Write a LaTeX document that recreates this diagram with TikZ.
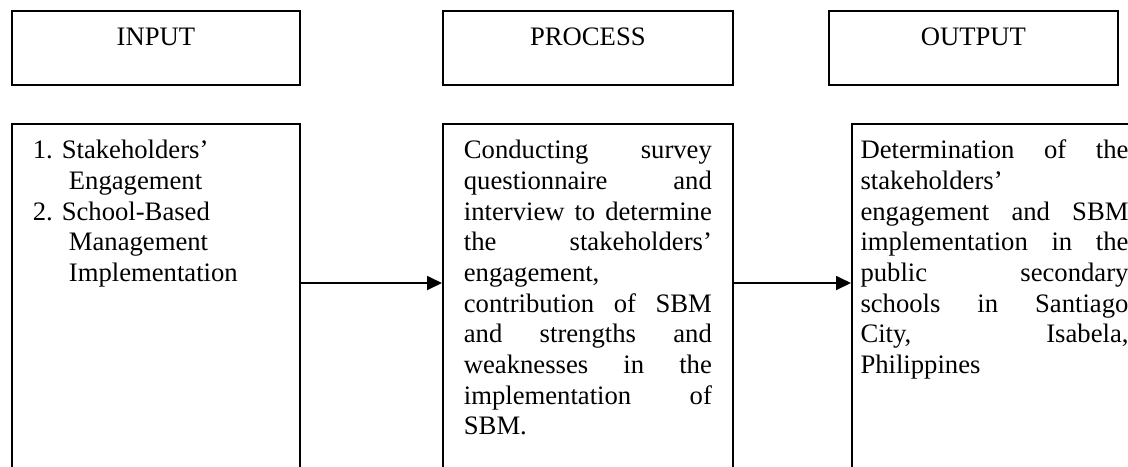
\documentclass[tikz,border=0pt]{standalone}
\usepackage{fontspec}
\setmainfont{Liberation Serif}
\usepackage{tikz}
\usetikzlibrary{arrows.meta,positioning,calc}
\tolerance=10000
\hbadness=10000

\begin{document}
\begin{tikzpicture}[x=0.45pt, y=-0.45pt,
  box/.style={rectangle, draw, line width=0.8pt, anchor=north west,
    inner ysep=0pt, text height=15.75pt},
  headbox/.style={box, inner xsep=0pt, minimum width=#1, text depth=17.55pt},
  bodybox/.style={box, inner xsep=9.45pt, text width=#1, align=justify,
    text depth=160pt},
  arrow/.style={-{Triangle[length=6.75pt,width=6.3pt]}, line width=0.8pt},
  every node/.style={font=\fontsize{12pt}{13.8pt}\selectfont}
]
  \useasboundingbox (0,0) rectangle (1128,466);
  \clip (0,0) rectangle (1128,466);

  % Headings (top row)
  \node[headbox=129.6pt] (inhead) at (11,10) {INPUT};
  \node[headbox=130.5pt] (prochead) at (442,10) {PROCESS};
  \node[headbox=130.05pt] (outhead) at (828,10) {OUTPUT};

  % Input column
  \node[bodybox=110.7pt, align=left] (inbody) at (11,123)
    {1.~Stakeholders’\newline\hspace*{16.2pt}Engagement\newline
     2.~School-Based\newline\hspace*{16.2pt}Management\newline
     \hspace*{16.2pt}Implementation};

  % Process column
  \node[bodybox=111.6pt] (procbody) at (442,123)
    {Conducting survey\linebreak questionnaire and\linebreak
     interview to determine\linebreak the stakeholders’\linebreak
     engagement,\newline contribution of SBM\linebreak and strengths and\linebreak
     weaknesses in the\linebreak implementation of\linebreak SBM.};

  % Output column
  \node[bodybox=120.6pt, inner xsep=3.87pt] (outbody) at (851,123)
    {Determination of the\linebreak stakeholders’\newline
     engagement and SBM\linebreak implementation in the\linebreak
     public secondary\linebreak schools in Santiago\linebreak
     City, Isabela,\linebreak Philippines};

  % Flow arrows
  \coordinate (flow) at (0,283);
  \draw[arrow] (inbody.east |- flow) -- (procbody.west |- flow);
  \draw[arrow] (procbody.east |- flow) -- (outbody.west |- flow);
\end{tikzpicture}
\end{document}
